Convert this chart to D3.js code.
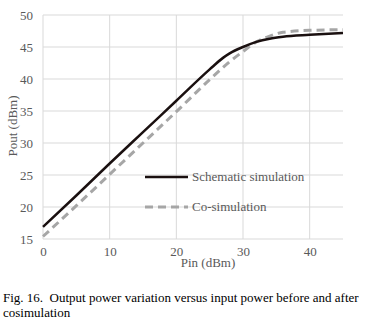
<!DOCTYPE html>
<html>
<head>
<meta charset="utf-8">
<script src="https://cdn.jsdelivr.net/npm/d3@7"></script>
<style>
  body { margin: 0; background: #fff; }
  svg text { font-family: "Liberation Serif", "Times New Roman", serif; }
</style>
</head>
<body>
<div id="chart"></div>
<script>
// Schematic simulation (solid black)
const schemPin  = [0, 5, 10, 15, 20, 25, 27, 28, 30, 32, 34, 36, 40, 45];
const schemPout = [16.9, 21.8, 26.8, 31.7, 36.6, 41.5, 43.3, 44.0, 45.0, 45.8, 46.3, 46.6, 46.9, 47.2];
// Co-simulation (grey dashed)
const coPin  = [0, 5, 10, 15, 20, 25, 28, 30, 32, 34, 36, 40, 45];
const coPout = [15.4, 20.2, 25.1, 30.0, 34.9, 39.9, 42.7, 44.3, 45.8, 46.7, 47.3, 47.6, 47.7];

const xTicks = [0, 10, 20, 30, 40];
const yTicks = [15, 20, 25, 30, 35, 40, 45, 50];

const width = 376, height = 325;
const margin = { top: 15, right: 33, bottom: 86, left: 43 };
const innerWidth = width - margin.left - margin.right;
const innerHeight = height - margin.top - margin.bottom;

const svg = d3.select('#chart').append('svg')
    .attr('width', width)
    .attr('height', height);

const chart = svg.append('g')
    .attr('transform', `translate(${margin.left}, ${margin.top})`);

const xScale = d3.scaleLinear().domain([0, 45]).range([0, innerWidth]);
const yScale = d3.scaleLinear().domain([15, 50]).range([innerHeight, 0]);

// gridlines
chart.append('g')
    .selectAll('line.h')
    .data(yTicks)
    .enter().append('line')
    .attr('x1', 0).attr('x2', innerWidth)
    .attr('y1', d => yScale(d)).attr('y2', d => yScale(d))
    .attr('stroke', '#d9d9d9').attr('stroke-width', 1);

chart.append('g')
    .selectAll('line.v')
    .data(xTicks)
    .enter().append('line')
    .attr('x1', d => xScale(d)).attr('x2', d => xScale(d))
    .attr('y1', 0).attr('y2', innerHeight)
    .attr('stroke', '#d9d9d9').attr('stroke-width', 1);

// axes (labels only)
const yAxis = chart.append('g')
    .call(d3.axisLeft(yScale).tickValues(yTicks).tickSize(0).tickPadding(10));
yAxis.select('.domain').remove();
yAxis.selectAll('text').attr('fill', '#595959').style('font-size', '13px');

const xAxis = chart.append('g')
    .attr('transform', `translate(0, ${innerHeight})`)
    .call(d3.axisBottom(xScale).tickValues(xTicks).tickSize(0).tickPadding(8));
xAxis.select('.domain').remove();
xAxis.selectAll('text').attr('fill', '#595959').style('font-size', '13px');

// lines
const line = d3.line()
    .x(d => xScale(d[0]))
    .y(d => yScale(d[1]))
    .curve(d3.curveMonotoneX);

chart.append('path')
    .datum(coPin.map((p, i) => [p, coPout[i]]))
    .attr('d', line)
    .attr('fill', 'none')
    .attr('stroke', '#a6a6a6')
    .attr('stroke-width', 3)
    .attr('stroke-dasharray', '8,5');

chart.append('path')
    .datum(schemPin.map((p, i) => [p, schemPout[i]]))
    .attr('d', line)
    .attr('fill', 'none')
    .attr('stroke', '#1a1010')
    .attr('stroke-width', 2.5);

// legend
const legend = svg.append('g');
legend.append('line')
    .attr('x1', 145).attr('x2', 188).attr('y1', 177).attr('y2', 177)
    .attr('stroke', '#1a1010').attr('stroke-width', 2.5);
legend.append('text')
    .attr('x', 192).attr('y', 181)
    .attr('fill', '#595959').style('font-size', '13px')
    .text('Schematic simulation');
legend.append('line')
    .attr('x1', 145).attr('x2', 188).attr('y1', 207).attr('y2', 207)
    .attr('stroke', '#a6a6a6').attr('stroke-width', 3)
    .attr('stroke-dasharray', '8,5');
legend.append('text')
    .attr('x', 192).attr('y', 211)
    .attr('fill', '#595959').style('font-size', '13px')
    .text('Co-simulation');

// axis titles
svg.append('text')
    .attr('x', 208)
    .attr('y', 267)
    .attr('text-anchor', 'middle')
    .attr('fill', '#595959').style('font-size', '13px')
    .text('Pin (dBm)');

svg.append('text')
    .attr('transform', 'rotate(-90)')
    .attr('x', -126)
    .attr('y', 17)
    .attr('text-anchor', 'middle')
    .attr('fill', '#595959').style('font-size', '13px')
    .text('Pout (dBm)');

// caption
svg.append('text')
    .attr('x', 3).attr('y', 302)
    .attr('fill', '#000').style('font-size', '13px')
    .attr('xml:space', 'preserve')
    .text('Fig. 16.  Output power variation versus input power before and after');
svg.append('text')
    .attr('x', 3).attr('y', 317)
    .attr('fill', '#000').style('font-size', '13px')
    .text('cosimulation');
</script>
</body>
</html>
